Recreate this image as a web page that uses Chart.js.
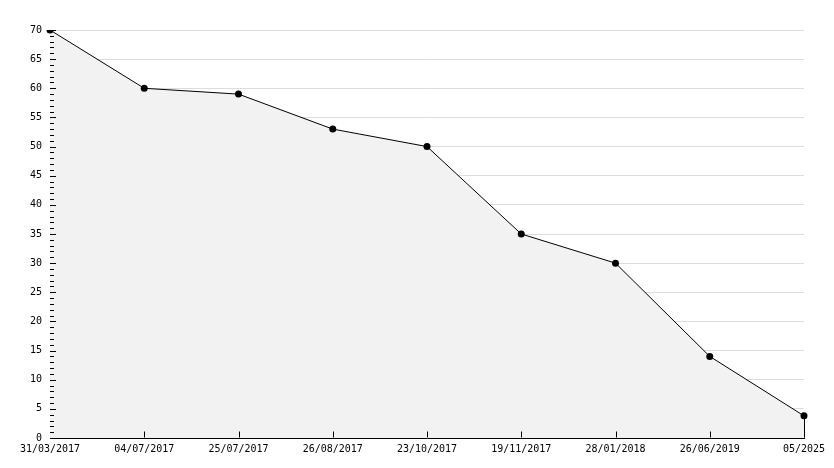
<!DOCTYPE html>
<html>
<head>
<meta charset="utf-8">
<script src="https://cdn.jsdelivr.net/npm/chart.js@4/dist/chart.umd.min.js"></script>
<style>
  html, body { margin: 0; padding: 0; background: #fff; }
  #wrap { width: 834px; height: 468px; }
</style>
</head>
<body>
<div id="wrap"><canvas id="grafico" width="834" height="468"></canvas></div>
<script>
// datos
const fechas = ['31/03/2017', '04/07/2017', '25/07/2017', '26/08/2017', '23/10/2017', '19/11/2017', '28/01/2018', '26/06/2019', '05/2025'];
const valores = [70, 60, 59, 53, 50, 35, 30, 14, 3.8];
const yMin = 0;
const yMax = 70;
const yPaso = 5;

// ticks hacia adentro (mayores cada 5, menores cada 1) y borde derecho del relleno
const ticksInternos = {
    id: 'ticksInternos',
    afterDraw(chart) {
        const ctx = chart.ctx;
        const area = chart.chartArea;
        const x = chart.scales.x;
        const y = chart.scales.y;
        const base = Math.round(y.getPixelForValue(yMin)) - 0.5;
        ctx.save();
        ctx.strokeStyle = '#000';
        ctx.lineWidth = 1;
        ctx.beginPath();
        for (let v = yMin; v <= yMax; v++) {
            const py = Math.round(y.getPixelForValue(v)) + 0.5;
            const largo = (v % yPaso === 0) ? 6 : 4;
            ctx.moveTo(area.left, py);
            ctx.lineTo(area.left + largo, py);
        }
        for (let i = 1; i < fechas.length; i++) {
            const px = Math.round(x.getPixelForValue(i)) + 0.5;
            ctx.moveTo(px, base);
            ctx.lineTo(px, base - 6);
        }
        // linea vertical desde el ultimo punto hasta el eje
        const ult = fechas.length - 1;
        const pxUlt = Math.round(x.getPixelForValue(ult)) + 0.5;
        ctx.moveTo(pxUlt, base);
        ctx.lineTo(pxUlt, y.getPixelForValue(valores[ult]));
        ctx.stroke();
        ctx.restore();
    }
};

const fuente = { family: 'DejaVu Sans Mono', size: 10 };

new Chart(document.getElementById('grafico'), {
    type: 'line',
    data: {
        labels: fechas,
        datasets: [{
            data: valores,
            borderColor: '#000',
            borderWidth: 1,
            backgroundColor: '#f2f2f2',
            fill: true,
            tension: 0,
            pointStyle: 'circle',
            pointRadius: 3.5,
            pointBackgroundColor: '#000',
            pointBorderColor: '#000',
            pointBorderWidth: 0
        }]
    },
    options: {
        responsive: false,
        animation: false,
        layout: { padding: { left: 0, top: 30, right: 30, bottom: 0 } },
        plugins: {
            legend: { display: false },
            tooltip: { enabled: false }
        },
        scales: {
            x: {
                offset: false,
                grid: { display: false, drawTicks: false },
                border: { color: '#000', width: 1 },
                ticks: { color: '#000', font: fuente, padding: 5, maxRotation: 0, autoSkip: false },
                afterFit(scale) { scale.height = 30; }
            },
            y: {
                min: yMin,
                max: yMax,
                grid: { color: '#dcdcdc', drawTicks: false },
                border: { color: '#000', width: 1 },
                ticks: { stepSize: yPaso, color: '#000', font: fuente, padding: 8 },
                afterFit(scale) { scale.width = 50; }
            }
        }
    },
    plugins: [ticksInternos]
});
</script>
</body>
</html>
